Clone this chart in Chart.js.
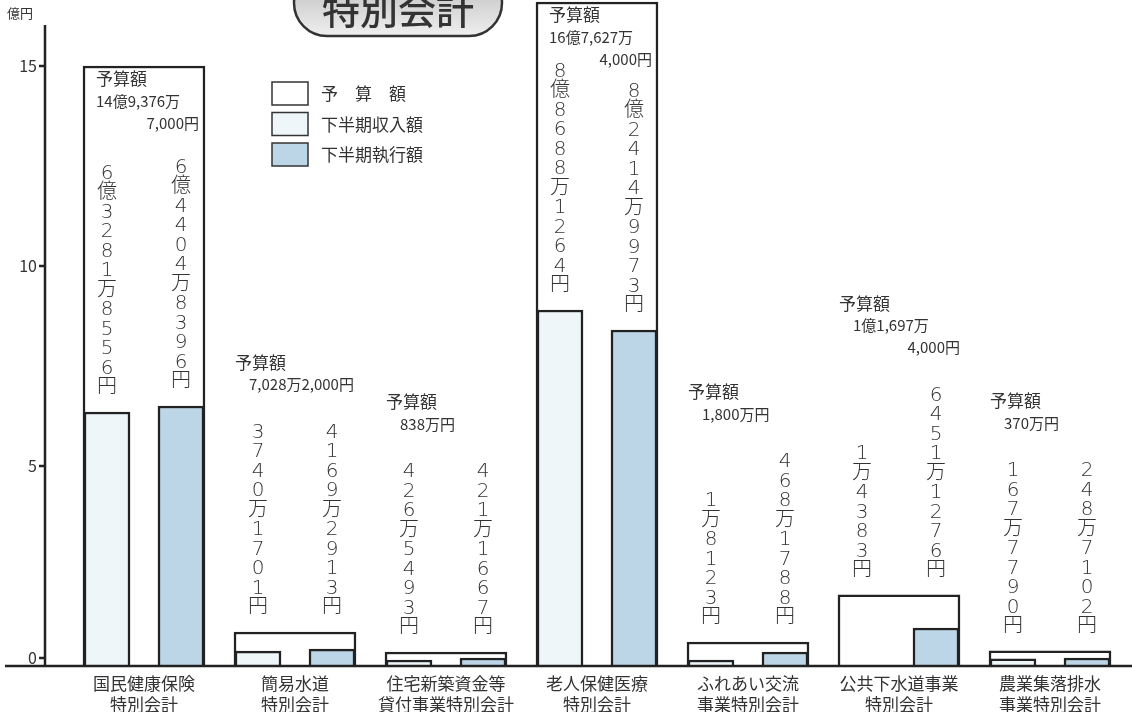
<!DOCTYPE html>
<html lang="ja">
<head>
<meta charset="utf-8">
<title>特別会計</title>
<script src="https://cdn.jsdelivr.net/npm/chart.js@4.4.2/dist/chart.umd.min.js"></script>
<style>
  html, body { margin: 0; padding: 0; background: #fff; }
  #chart { display: block; }
</style>
</head>
<body>
<canvas id="chart" width="1132" height="712"></canvas>
<script>
// 億円 (heights as drawn in the original)
const categories = [
  ['国民健康保険', '特別会計'],
  ['簡易水道', '特別会計'],
  ['住宅新築資金等', '貸付事業特別会計'],
  ['老人保健医療', '特別会計'],
  ['ふれあい交流', '事業特別会計'],
  ['公共下水道事業', '特別会計'],
  ['農業集落排水', '事業特別会計']
];
const budget = [15.0, 0.85, 0.35, 16.6, 0.6, 1.78, 0.38];
const income = [6.35, 0.37, 0.15, 8.9, 0.15, 0, 0.18];
const spent = [6.5, 0.42, 0.2, 8.4, 0.35, 0.95, 0.2];

const budgetText = [
  ['予算額', '14億9,376万', '7,000円'],
  ['予算額', '7,028万2,000円'],
  ['予算額', '838万円'],
  ['予算額', '16億7,627万', '4,000円'],
  ['予算額', '1,800万円'],
  ['予算額', '1億1,697万', '4,000円'],
  ['予算額', '370万円']
];
const incomeText = ['6億3281万8556円', '3740万1701円', '426万5493円',
  '8億8688万1264円', '1万8123円', '1万4383円', '167万7790円'];
const spentText = ['6億4404万8396円', '4169万2913円', '421万1667円',
  '8億2414万9973円', '468万1788円', '6451万1276円', '248万7102円'];

const yTicks = [0, 5, 10, 15];
const legendLabels = ['予　算　額', '下半期収入額', '下半期執行額'];
const titleText = '特別会計';
const unitText = '億円';

const JP = '"Noto Sans CJK JP", "Noto Sans", sans-serif';
const DIGITS = '"DejaVu Sans", "Noto Sans CJK JP", sans-serif';
const INK = '#222';
const COL_BUDGET = '#ffffff';
const COL_INCOME = '#eef6fa';
const COL_SPENT = '#bcd6e7';
const SHIFT = 0.245; // half the distance between the two bars of a group

/**
 * Draws a string one character under the other, last char centred at `bottom`.
 */
function drawVertical(ctx, text, x, bottom, step) {
  const chars = Array.from(text);
  chars.forEach((c, i) => {
    ctx.fillText(c, x, bottom - (chars.length - 1 - i) * step);
  });
}

const decorPlugin = {
  id: 'decor',
  afterDraw(chart) {
    const ctx = chart.ctx;
    const y = chart.scales.y;
    const x = chart.scales.x;
    const zero = y.getPixelForValue(0);
    ctx.save();

    // baseline and y axis
    ctx.strokeStyle = INK;
    ctx.lineWidth = 2.5;
    ctx.beginPath();
    ctx.moveTo(5, zero);
    ctx.lineTo(1132, zero);
    ctx.moveTo(45, 25);
    ctx.lineTo(45, zero);
    ctx.stroke();

    ctx.fillStyle = '#333';
    ctx.font = '16px ' + JP;
    ctx.textAlign = 'right';
    ctx.textBaseline = 'middle';
    yTicks.forEach(v => {
      const py = y.getPixelForValue(v) - (v === 0 ? 8 : 0);
      ctx.fillText(String(v), 37, py);
      ctx.beginPath();
      ctx.moveTo(39, py);
      ctx.lineTo(45, py);
      ctx.stroke();
    });
    ctx.font = '13px ' + JP;
    ctx.textAlign = 'left';
    ctx.fillText(unitText, 7, 13);

    // category labels
    ctx.font = '17px ' + JP;
    ctx.textAlign = 'center';
    categories.forEach((lines, i) => {
      const px = x.getPixelForValue(i);
      lines.forEach((t, k) => ctx.fillText(t, px, zero + 18 + k * 21));
    });

    // value labels
    const mIncome = chart.getDatasetMeta(0);
    const mSpent = chart.getDatasetMeta(1);
    const mBudget = chart.getDatasetMeta(2);
    const step = 19.5;
    categories.forEach((_, i) => {
      const b = mBudget.data[i];
      const left = b.x - b.width / 2;
      const right = b.x + b.width / 2;
      const longest = Math.max(Array.from(incomeText[i]).length,
          Array.from(spentText[i]).length);
      const inside = b.y < Math.min(mIncome.data[i].y, mSpent.data[i].y)
          - longest * step - 60;
      let topChar = Infinity;
      [[mIncome, incomeText], [mSpent, spentText]].forEach(([m, txt]) => {
        const bar = m.data[i];
        const anchor = inside ? bar.y : b.y;
        const bottom = anchor - 24;
        const n = Array.from(txt[i]).length;
        ctx.font = '200 20px ' + DIGITS;
        ctx.textAlign = 'center';
        drawVertical(ctx, txt[i], bar.x, bottom, step);
        topChar = Math.min(topChar, bottom - (n - 1) * step);
      });

      // budget text
      const lines = budgetText[i];
      let y0;
      if (inside) {
        y0 = b.y + 13;
      } else {
        y0 = topChar - 48 - (lines.length - 1) * 22;
      }
      lines.forEach((t, k) => {
        const ly = y0 + k * 22;
        if (k === 0) {
          ctx.font = '17px ' + JP;
          ctx.textAlign = 'left';
          ctx.fillText(t, left + (inside ? 13 : 1), ly);
        } else if (k === 1) {
          ctx.font = '15px ' + JP;
          ctx.textAlign = 'left';
          ctx.fillText(t, left + (inside ? 13 : 15), ly);
        } else {
          ctx.font = '15px ' + JP;
          ctx.textAlign = 'right';
          ctx.fillText(t, right - (inside ? 6 : 0), ly);
        }
      });
    });

    // title pill
    const grad = ctx.createLinearGradient(0, -10, 0, 37);
    grad.addColorStop(0, '#c8c8c8');
    grad.addColorStop(1, '#f0f0f0');
    ctx.fillStyle = grad;
    ctx.strokeStyle = '#333';
    ctx.lineWidth = 2.5;
    ctx.beginPath();
    ctx.roundRect(294, -30, 208, 66, 33);
    ctx.fill();
    ctx.stroke();
    ctx.fillStyle = '#333';
    ctx.font = '500 38px ' + JP;
    ctx.textAlign = 'center';
    ctx.textBaseline = 'middle';
    ctx.fillText(titleText, 398, 10);

    // legend
    const fills = [COL_BUDGET, COL_INCOME, COL_SPENT];
    ctx.font = '17px ' + JP;
    ctx.textAlign = 'left';
    legendLabels.forEach((t, k) => {
      const ly = 82 + k * 30.5;
      ctx.fillStyle = fills[k];
      ctx.fillRect(272, ly, 36, 23);
      ctx.strokeStyle = '#333';
      ctx.lineWidth = 1.5;
      ctx.strokeRect(272, ly, 36, 23);
      ctx.fillStyle = '#333';
      ctx.fillText(t, 321, ly + 12);
    });

    ctx.restore();
  }
};

const barStyle = {
  borderColor: INK,
  borderWidth: 2.5,
  grouped: false
};

new Chart(document.getElementById('chart'), {
  type: 'bar',
  data: {
    datasets: [
      {
        ...barStyle,
        label: '下半期収入額',
        data: income.map((v, i) => ({x: i - SHIFT, y: v})),
        backgroundColor: COL_INCOME,
        barThickness: 46,
        order: 1
      },
      {
        ...barStyle,
        label: '下半期執行額',
        data: spent.map((v, i) => ({x: i + SHIFT, y: v})),
        backgroundColor: COL_SPENT,
        barThickness: 46,
        order: 1
      },
      {
        ...barStyle,
        label: '予算額',
        data: budget.map((v, i) => ({x: i, y: v})),
        backgroundColor: COL_BUDGET,
        barThickness: 122,
        order: 2
      }
    ]
  },
  options: {
    responsive: false,
    animation: false,
    devicePixelRatio: 1,
    layout: {
      padding: {left: 68.5, right: 6.5, top: 0, bottom: 46}
    },
    scales: {
      x: {type: 'linear', min: -0.5, max: 6.5, offset: false, display: false},
      y: {min: 0, max: 16.65, display: false}
    },
    plugins: {
      legend: {display: false},
      tooltip: {enabled: false}
    }
  },
  plugins: [decorPlugin]
});
</script>
</body>
</html>
